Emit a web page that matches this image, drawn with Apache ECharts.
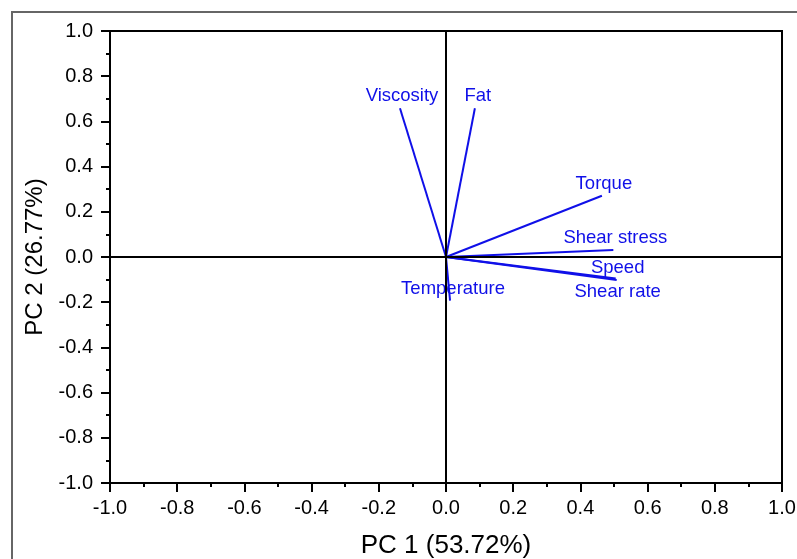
<!DOCTYPE html>
<html>
<head>
<meta charset="utf-8">
<script src="https://cdn.jsdelivr.net/npm/echarts@6/dist/echarts.min.js"></script>
<style>
  html, body { margin: 0; padding: 0; background: #fff; }
  #chart { width: 797px; height: 559px; }
</style>
</head>
<body>
<div id="chart"></div>
<script>
// PCA loadings
const variables = ['Viscosity', 'Fat', 'Torque', 'Shear stress', 'Speed', 'Shear rate', 'Temperature']
const pc1 = [-0.137, 0.086, 0.464, 0.498, 0.505, 0.508, 0.012]
const pc2 = [0.658, 0.658, 0.271, 0.031, -0.095, -0.102, -0.193]

// where each label sits relative to the tip of its arrow (px)
const labelOffsets = [[2, -12], [3, -12], [2, -12], [2, -12], [2, -11], [1, 12], [3, -12]]

const font = 'Liberation Sans, Arial, sans-serif'
const blue = '#1010e8'

const chart = echarts.init(document.getElementById('chart'))

const vectorSeries = variables.map((name, i) => ({
  name,
  type: 'line',
  data: [[0, 0], [pc1[i], pc2[i]]],
  showSymbol: false,
  silent: true,
  lineStyle: { color: blue, width: 2 }
}))

const option = {
  animation: false,
  backgroundColor: '#fff',
  graphic: [
    {
      type: 'rect',
      shape: { x: 12, y: 12, width: 800, height: 560 },
      style: { fill: 'none', stroke: '#666', lineWidth: 2 },
      silent: true
    }
  ],
  grid: {
    left: 110,
    right: 15,
    top: 31,
    bottom: 76,
    containLabel: false,
    outerBoundsMode: 'none',
    show: true,
    borderColor: '#000',
    borderWidth: 2
  },
  xAxis: {
    type: 'value',
    min: -1,
    max: 1,
    interval: 0.2,
    name: 'PC 1 (53.72%)',
    nameLocation: 'middle',
    nameGap: 50,
    nameTextStyle: { fontFamily: font, fontSize: 26, color: '#000' },
    axisLine: { onZero: false, lineStyle: { color: '#000', width: 2 } },
    axisTick: { show: true, length: 9, lineStyle: { width: 2 } },
    minorTick: { show: true, splitNumber: 2, length: 4, lineStyle: { color: '#000', width: 2 } },
    splitLine: { show: false },
    axisLabel: {
      fontFamily: font,
      fontSize: 20,
      color: '#000',
      margin: 15,
      formatter: v => v.toFixed(1)
    }
  },
  yAxis: {
    type: 'value',
    min: -1,
    max: 1,
    interval: 0.2,
    name: 'PC 2 (26.77%)',
    nameLocation: 'middle',
    nameGap: 61,
    nameTextStyle: { fontFamily: font, fontSize: 24, color: '#000' },
    axisLine: { onZero: false, lineStyle: { color: '#000', width: 2 } },
    axisTick: { show: true, length: 9, lineStyle: { width: 2 } },
    minorTick: { show: true, splitNumber: 2, length: 4, lineStyle: { color: '#000', width: 2 } },
    splitLine: { show: false },
    axisLabel: {
      fontFamily: font,
      fontSize: 20,
      color: '#000',
      margin: 17,
      formatter: v => v.toFixed(1)
    }
  },
  series: [
    {
      // zero reference lines
      type: 'line',
      data: [[0, 0]],
      showSymbol: false,
      silent: true,
      lineStyle: { opacity: 0 },
      markLine: {
        silent: true,
        symbol: 'none',
        label: { show: false },
        lineStyle: { color: '#000', width: 2, type: 'solid' },
        data: [{ xAxis: 0 }, { yAxis: 0 }]
      }
    },
    ...vectorSeries,
    {
      // variable names at the arrow tips
      type: 'scatter',
      silent: true,
      symbol: 'circle',
      symbolSize: 1,
      itemStyle: { color: 'rgba(0,0,0,0)', opacity: 1 },
      data: variables.map((name, i) => ({
        value: [pc1[i], pc2[i]],
        label: {
          show: true,
          formatter: name,
          position: 'inside',
          offset: labelOffsets[i],
          align: 'center',
          verticalAlign: 'middle',
          fontFamily: font,
          fontSize: 18.5,
          color: blue
        }
      }))
    }
  ]
}

chart.setOption(option)
</script>
</body>
</html>
